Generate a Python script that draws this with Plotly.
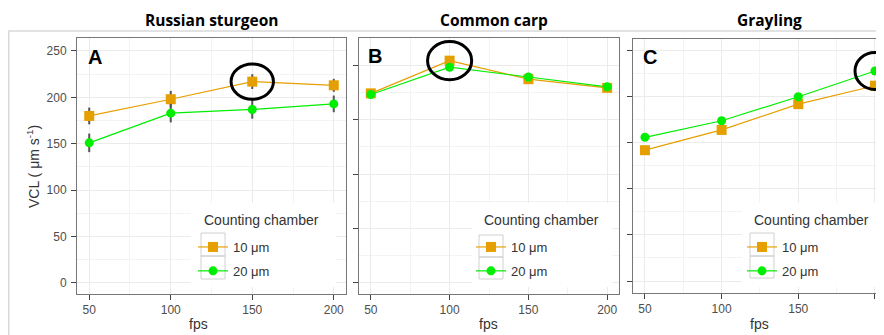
import plotly.graph_objects as go

# page is offset by the browser's 8px body margin; figure fills the rest of the window
OFF = 8
W, H = 884 - OFF, 335 - OFF

fps = [50, 100, 150, 200]
series_names = ["10 μm", "20 μm"]

# Panel A: Russian sturgeon
a_10 = [180, 198, 217, 213]
a_20 = [151, 183, 187, 193]
a_10_err = [9, 9, 8, 7]
a_20_err = [10, 10, 10, 9]
# Panel B: Common carp (own, unlabelled y scale)
b_10 = [174, 204, 187, 179]
b_20 = [173, 198, 189, 180]
b_10_err = [3, 3, 3, 3]
b_20_err = [3, 3, 3, 3]
# Panel C: Grayling
c_10 = [142, 164, 192, 212]
c_20 = [156, 174, 200, 228]
c_10_err = [3, 3, 3, 3]
c_20_err = [3, 3, 3, 3]

titles = ["Russian sturgeon", "Common carp", "Grayling"]
letters = ["A", "B", "C"]
legend_title = "Counting chamber"
y_ticks = [0, 50, 100, 150, 200, 250]
x_ticks = [50, 100, 150, 200]
highlight_idx = [2, 1, 3]  # circled point per panel
highlight_series = [0, 0, 1]

ORANGE = "#E69F00"
GREEN = "#00EE00"

def px_x(p):
    return (p - OFF) / W

def px_y(p):
    return 1 - (p - OFF) / H

panels = [
    dict(vals=(a_10, a_20), errs=(a_10_err, a_20_err), dom_x=(77, 346), dom_y=(38, 294),
         yr=[-11.9, 264], xr=[42.5, 207.5], show_yl=True, rx=13, ry=19,
         leg_title_x=202, marker_x=213, key_rows=(233, 256, 279), legbox=(191, 336, 203, 287)),
    dict(vals=(b_10, b_20), errs=(b_10_err, b_20_err), dom_x=(359, 619), dom_y=(38, 294),
         yr=[-10.1, 224.8], xr=[42.5, 207.5], show_yl=False, rx=14, ry=17.5,
         leg_title_x=482, marker_x=491, key_rows=(235, 257, 279), legbox=(472, 612, 203, 287)),
    dict(vals=(c_10, c_20), errs=(c_10_err, c_20_err), dom_x=(633, 884), dom_y=(39, 293),
         yr=[-13, 262.7], xr=[42.2, 205.9], show_yl=False, rx=13, ry=20,
         leg_title_x=752, marker_x=762, key_rows=(233, 256, 278), legbox=(742, 884, 203, 287)),
]

fig = go.Figure()
legend_names = ["legend", "legend2", "legend3"]
styles = [dict(color=ORANGE, symbol="square", size=10), dict(color=GREEN, symbol="circle", size=9)]

for i, p in enumerate(panels):
    sfx = "" if i == 0 else str(i + 1)
    for s in range(2):
        fig.add_trace(go.Scatter(
            x=fps, y=p["vals"][s], mode="lines+markers", name=series_names[s],
            line=dict(color=styles[s]["color"], width=1.2),
            marker=dict(color=styles[s]["color"], symbol=styles[s]["symbol"], size=styles[s]["size"]),
            error_y=dict(type="data", array=p["errs"][s], color="#555555", thickness=2, width=0),
            xaxis="x" + sfx, yaxis="y" + sfx, legend=legend_names[i],
            legendgroup="g%d%d" % (i, s),
        ))

layout = dict(
    width=W, height=H, margin=dict(l=0, r=0, t=0, b=0, autoexpand=False),
    paper_bgcolor="white", plot_bgcolor="white",
    font=dict(family="Arial, Liberation Sans", color="#333333"),
    showlegend=True,
)

grid = "#ebebeb"
minor_grid = "#f3f3f3"
for i, p in enumerate(panels):
    sfx = "" if i == 0 else str(i + 1)
    layout["xaxis" + sfx] = dict(
        domain=[px_x(p["dom_x"][0]), min(1, px_x(p["dom_x"][1]))], range=p["xr"], anchor="y" + sfx,
        automargin=False,
        tickvals=x_ticks, ticks="outside", ticklen=5, tickcolor="#444", tickwidth=1,
        showline=True, linecolor="#777", linewidth=1, mirror=True,
        showgrid=True, gridcolor=grid, gridwidth=1, zeroline=False,
        minor=dict(dtick=25, tick0=0, showgrid=True, gridcolor=minor_grid, gridwidth=0.6, ticks=""),
        tickfont=dict(size=12, color="#4d4d4d"),
    )
    layout["yaxis" + sfx] = dict(
        domain=[px_y(p["dom_y"][1]), px_y(p["dom_y"][0])], range=p["yr"], anchor="x" + sfx,
        automargin=False,
        tickvals=y_ticks, ticks="outside", ticklen=5, tickcolor="#444", tickwidth=1,
        showticklabels=p["show_yl"], ticklabelstandoff=2,
        showline=True, linecolor="#777", linewidth=1, mirror=(i < 2),
        showgrid=True, gridcolor=grid, gridwidth=1, zeroline=False,
        minor=dict(dtick=25, tick0=0, showgrid=True, gridcolor=minor_grid, gridwidth=0.6, ticks=""),
        tickfont=dict(size=12, color="#4d4d4d"),
    )

for i, p in enumerate(panels):
    layout[legend_names[i]] = dict(
        x=px_x(p["marker_x"] - 20), y=px_y(232), xanchor="left", yanchor="top",
        bgcolor="rgba(0,0,0,0)", borderwidth=0, tracegroupgap=4, traceorder="grouped",
        font=dict(size=13, color="#333"), itemwidth=30,
    )

annotations = []
title_cx = [211.5, 494, 769]
fps_cx = [198, 488, 759]
letter_pos = [(95, 57), (375, 56), (650, 57)]
for i, p in enumerate(panels):
    annotations.append(dict(text="<b>%s</b>" % titles[i], x=px_x(title_cx[i]), y=px_y(20),
                            xanchor="center", yanchor="middle",
                            xref="paper", yref="paper", showarrow=False,
                            font=dict(family="Open Sans", size=15.5, color="black")))
    annotations.append(dict(text="fps", x=px_x(fps_cx[i]), y=px_y(324),
                            xanchor="center", yanchor="middle",
                            xref="paper", yref="paper", showarrow=False,
                            font=dict(size=14, color="#333")))
    annotations.append(dict(text="<b>%s</b>" % letters[i], x=px_x(letter_pos[i][0]), y=px_y(letter_pos[i][1]),
                            xanchor="center", yanchor="middle",
                            xref="paper", yref="paper", showarrow=False,
                            font=dict(size=20, color="black")))
    annotations.append(dict(text=legend_title, x=px_x(p["leg_title_x"]), y=px_y(220),
                            xanchor="left", yanchor="middle",
                            xref="paper", yref="paper", showarrow=False,
                            font=dict(size=14, color="#333")))
annotations.append(dict(text="VCL ( μm s<sup>-1</sup>)", x=px_x(33), y=px_y(167), textangle=-90,
                        xanchor="center", yanchor="middle",
                        xref="paper", yref="paper", showarrow=False,
                        font=dict(size=14, color="#333")))
layout["annotations"] = annotations

shapes = []
for i, p in enumerate(panels):
    sfx = "" if i == 0 else str(i + 1)
    # white legend background above gridlines, below data (converted from pixels to axis units)
    x0d, x1d = p["dom_x"]
    y0d, y1d = p["dom_y"]
    xr, yr = p["xr"], p["yr"]
    def to_dx(px):
        return xr[0] + (px - x0d) / (x1d - x0d) * (xr[1] - xr[0])
    def to_dy(py):
        return yr[0] + (y1d - py) / (y1d - y0d) * (yr[1] - yr[0])
    lb = p["legbox"]
    shapes.append(dict(type="rect", xref="x" + sfx, yref="y" + sfx,
                       x0=to_dx(lb[0]), x1=min(xr[1], to_dx(lb[1])),
                       y0=to_dy(lb[3]), y1=to_dy(lb[2]),
                       fillcolor="white", line=dict(width=0), layer="between"))
    # legend key boxes
    kr = p["key_rows"]
    for r in range(2):
        shapes.append(dict(type="rect", xref="paper", yref="paper",
                           x0=px_x(p["marker_x"] - 12), x1=px_x(p["marker_x"] + 12),
                           y0=px_y(kr[r + 1]), y1=px_y(kr[r]),
                           line=dict(color="#d0d0d0", width=1), layer="above"))
    j = highlight_idx[i]
    xc = fps[j]
    yc = p["vals"][highlight_series[i]][j]
    shapes.append(dict(type="circle", xref="x" + sfx, yref="y" + sfx,
                       x0=xc - p["rx"], x1=xc + p["rx"], y0=yc - p["ry"], y1=yc + p["ry"],
                       line=dict(color="black", width=3)))
# outer light frame
shapes.append(dict(type="rect", xref="paper", yref="paper", x0=px_x(8.7), x1=1.2, y0=-0.2, y1=px_y(31),
                   line=dict(color="#d9d9d9", width=1.5), layer="below"))
layout["shapes"] = shapes

fig.update_layout(**layout)
fig.write_html("out.html")
